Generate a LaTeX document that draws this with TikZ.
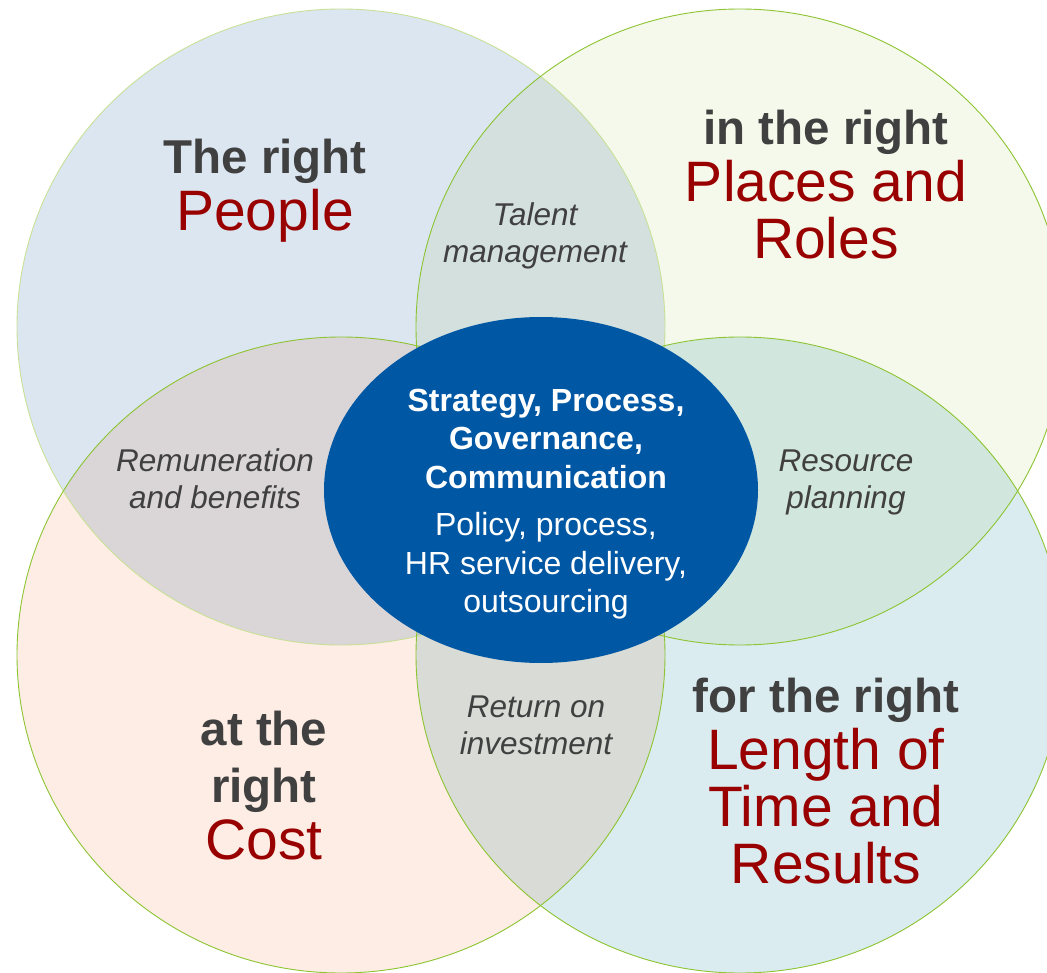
\documentclass[tikz,border=0pt]{standalone}
\usepackage{fontspec}
\setmainfont{Liberation Sans}
\usetikzlibrary{shapes.geometric}

\definecolor{petalblue}{RGB}{220,230,241}
\definecolor{petalgreen}{RGB}{245,249,235}
\definecolor{petalpeach}{RGB}{253,237,228}
\definecolor{petalteal}{RGB}{218,236,240}
\definecolor{rimgreen}{RGB}{140,196,50}
\definecolor{rimpale}{RGB}{200,225,150}
\definecolor{hubblue}{RGB}{0,87,164}
\definecolor{titlegrey}{RGB}{64,64,64}
\definecolor{placered}{RGB}{153,0,0}

% one petal of the flower, always the same size
\def\petal[#1](#2){\path[#1] (#2) ellipse [x radius=324, y radius=318];}

\begin{document}
\begin{tikzpicture}[x=1pt,y=-1pt,
	rim/.style={draw=rimgreen, line width=0.9pt},
	title/.style={align=center, text=titlegrey, font=\fontsize{57}{57}\selectfont},
	overlap/.style={align=center, text=titlegrey, font=\itshape\fontsize{31.5}{37}\selectfont},
	hub/.style={ellipse, fill=hubblue, minimum width=434pt, minimum height=346pt, inner sep=0pt},
	hubtext/.style={align=center, text=white, font=\fontsize{32}{38.5}\selectfont}]
		%%%%% START %%%%%
		\useasboundingbox (0, 0) rectangle (1047, 973);
		
		\begin{scope}[blend group=multiply]
		\petal[fill=petalblue](341, 327)
		\petal[fill=petalgreen](740, 327)
		\petal[fill=petalpeach](341, 655)
		\petal[fill=petalteal](740, 655)
		\end{scope}
		
		\petal[draw=rimpale, line width=0.9pt](341, 327)
		\petal[rim](740, 327)
		\petal[rim](341, 655)
		\petal[rim](740, 655)
		
		\node[hub] (hub) at (541, 490) {};
		\node[hubtext] (hubtxt) at (546, 504) {{\bfseries Strategy, Process,}\\{\bfseries Governance,}\\{\bfseries Communication}\\[9pt]Policy, process,\\HR service delivery,\\outsourcing};
		
		\node[title] (people) at (265, 191) {{\bfseries\fontsize{47.5}{57}\selectfont The right}\\\textcolor{placered}{People}};
		\node[title] (places) at (826, 185) {{\bfseries\fontsize{47.5}{57}\selectfont in the right}\\\textcolor{placered}{Places and}\\\textcolor{placered}{Roles}};
		\node[title] (cost) at (264, 786) {{\bfseries\fontsize{47.5}{57}\selectfont at the}\\{\bfseries\fontsize{47.5}{57}\selectfont right}\\\textcolor{placered}{Cost}};
		\node[title] (length) at (826, 781) {{\bfseries\fontsize{47.5}{57}\selectfont for the right}\\\textcolor{placered}{Length of}\\\textcolor{placered}{Time and}\\\textcolor{placered}{Results}};
		
		\node[overlap] (talent) at (535, 236) {Talent\\management};
		\node[overlap] (reward) at (215, 479) {Remuneration\\and benefits};
		\node[overlap] (resource) at (846, 482) {Resource\\planning};
		\node[overlap] (invest) at (536, 725) {Return on\\investment};
		%%%%% END %%%%%
\end{tikzpicture}
\end{document}
